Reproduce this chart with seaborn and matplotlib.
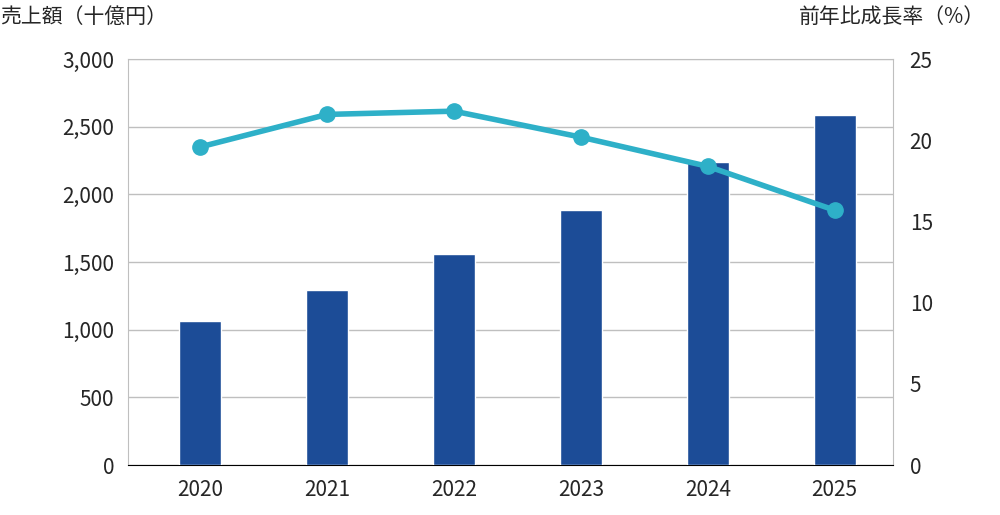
import matplotlib
matplotlib.use("Agg")
import matplotlib.pyplot as plt
import seaborn as sns
import pandas as pd

years = ["2020", "2021", "2022", "2023", "2024", "2025"]
sales = [1064, 1293, 1559, 1884, 2239, 2586]
growth = [19.6, 21.6, 21.8, 20.2, 18.4, 15.7]

sns.set_style("white")
plt.rcParams['font.family'] = ['Noto Sans CJK JP', 'DejaVu Sans']

df = pd.DataFrame({"year": years, "sales": sales, "growth": growth})

fig = plt.figure(figsize=(10, 5.15), dpi=100)
ax = fig.add_axes([0.128, 0.097, 0.765, 0.788])
sns.barplot(data=df, x="year", y="sales", color="#1c4c97", width=0.33, saturation=1, ax=ax, zorder=3)
ax.set_xlim(-0.57, 5.46)
ax.set_ylim(0, 3000)
ax.set_yticks(range(0, 3001, 500))
ax.set_yticklabels([f"{v:,}" for v in range(0, 3001, 500)])
ax.yaxis.grid(True, color="#bfbfbf", linewidth=1, zorder=0)
ax.set_xlabel("")
ax.set_ylabel("")
for s in ax.spines.values():
    s.set_color("#bfbfbf")
ax.spines["bottom"].set_color("#000000")
ax.tick_params(axis="both", labelsize=15, length=0, pad=10)

ax2 = ax.twinx()
ax2.plot(range(len(years)), growth, color="#2eb0c8", linewidth=4, marker="o", markersize=11, zorder=5)
ax2.set_ylim(0, 25)
ax2.set_yticks(range(0, 26, 5))
ax2.tick_params(axis="y", labelsize=15, length=0, pad=12)
for s in ax2.spines.values():
    s.set_visible(False)
ax2.grid(False)

fig.text(0.0, 0.955, "売上額（十億円）", fontsize=15, ha="left")
fig.text(0.985, 0.955, "前年比成長率（%）", fontsize=15, ha="right")

fig.savefig("out.png", dpi=100)
